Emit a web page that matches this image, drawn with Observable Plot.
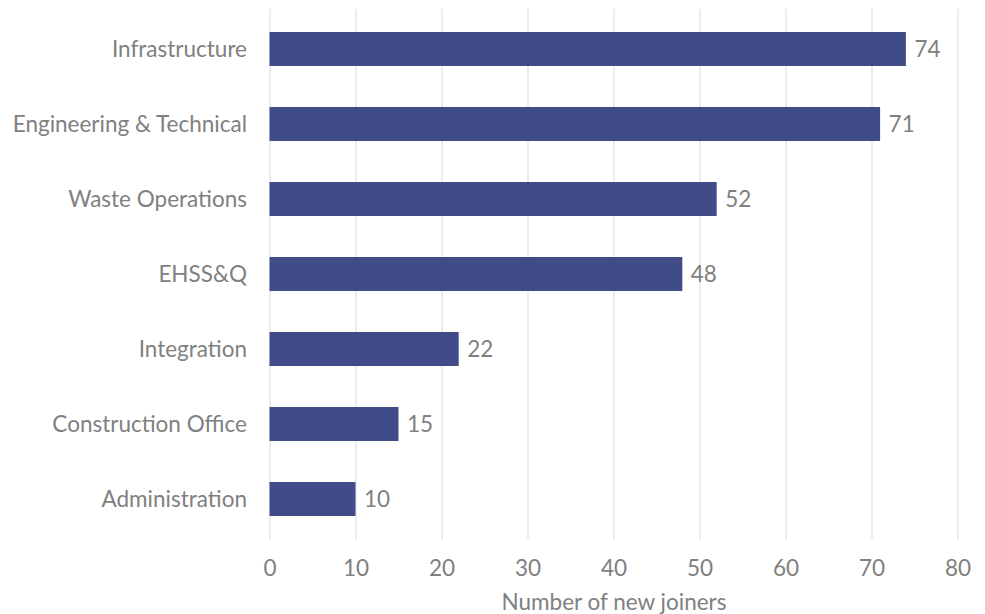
<!DOCTYPE html>
<html>
<head>
<meta charset="utf-8">
<script src="https://cdn.jsdelivr.net/npm/d3@7"></script>
<script src="https://cdn.jsdelivr.net/npm/@observablehq/plot@0.6"></script>
<style>
  html, body { margin: 0; padding: 0; background: #fff; }
  #chart { width: 985px; height: 614px; }
  svg { font-family: Lato, "Open Sans", sans-serif; }
</style>
</head>
<body>
<div id="chart"></div>
<script>
const categories = ["Infrastructure", "Engineering & Technical", "Waste Operations", "EHSS&Q", "Integration", "Construction Office", "Administration"];
const values = [74, 71, 52, 48, 22, 15, 10];
const xTicks = [0, 10, 20, 30, 40, 50, 60, 70, 80];
const xTitle = "Number of new joiners";

const data = categories.map((c, i) => ({category: c, value: values[i]}));
const textColor = "#808080";
const fs = 22.5;

const chart = Plot.plot({
  width: 985,
  height: 614,
  marginLeft: 269.5,
  marginRight: 27.5,
  marginTop: 9,
  marginBottom: 75,
  style: {fontSize: fs + "px", color: textColor, background: "#fff"},
  x: {domain: [0, 80], ticks: xTicks},
  y: {domain: categories, paddingInner: 0.55, paddingOuter: 0.275},
  marks: [
    Plot.gridX(xTicks, {stroke: "#d9d9d9", strokeOpacity: 1, strokeWidth: 1}),
    Plot.barX(data, {y: "category", x: "value", fill: "#414b87"}),
    Plot.text(data, {y: "category", x: "value", text: d => String(d.value), textAnchor: "start", dx: 8, fill: textColor, fontSize: fs}),
    Plot.axisY({tickSize: 0, tickPadding: 23, fontSize: fs, label: null, fill: textColor}),
    Plot.axisX(xTicks, {tickSize: 0, tickPadding: 21, fontSize: fs, fill: textColor, label: xTitle, labelAnchor: "center", labelOffset: 70, labelArrow: "none"})
  ]
});
document.getElementById("chart").appendChild(chart);
</script>
</body>
</html>
